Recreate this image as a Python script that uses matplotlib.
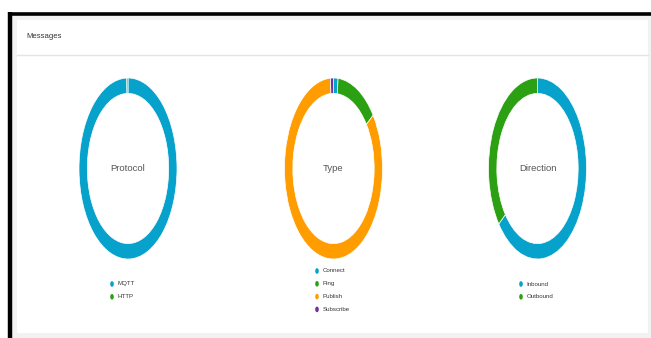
import matplotlib
matplotlib.use("Agg")
import matplotlib.pyplot as plt
from matplotlib.patches import Rectangle, Ellipse

W, H = 651, 338
DPI = 100

title = "Messages"

protocol_labels = ["MQTT", "HTTP"]
protocol_values = [99.6, 0.4]

type_labels = ["Connect", "Ping", "Publish", "Subscribe"]
type_values = [1.5, 13.5, 84.0, 1.0]

direction_labels = ["Inbound", "Outbound"]
direction_values = [64.5, 35.5]

center_titles = ["Protocol", "Type", "Direction"]

BLUE = "#06a2cb"
GREEN = "#2aa012"
ORANGE = "#ff9d00"
PURPLE = "#7030a0"

FONT = ["Liberation Sans Narrow", "Liberation Sans", "DejaVu Sans"]

fig = plt.figure(figsize=(W / DPI, H / DPI), dpi=DPI)
fig.patch.set_facecolor("white")

# overlay axes in pixel coordinates
bg = fig.add_axes([0, 0, 1, 1])
bg.set_xlim(0, W)
bg.set_ylim(H, 0)
bg.axis("off")
bg.add_patch(Rectangle((10, 13), W - 10, H - 13, facecolor="#f2f2f2", edgecolor="none"))
bg.add_patch(Rectangle((17, 20), 631, 313, facecolor="white", edgecolor="none"))
bg.plot([8, W], [13.5, 13.5], color="black", lw=2.6, solid_capstyle="butt")
bg.plot([10, 10], [12, H], color="black", lw=3.2, solid_capstyle="butt")
bg.plot([17, 648], [55, 55], color="#e4e4e4", lw=1.0)
bg.text(26, 37, title, fontsize=5.6, color="#333333", va="center", ha="left",
        family=FONT, stretch="condensed")


def px_axes(x0, y0, x1, y1):
    return fig.add_axes([x0 / W, 1 - y1 / H, (x1 - x0) / W, (y1 - y0) / H])


charts = [
    (protocol_labels, protocol_values, [BLUE, GREEN], 128.0),
    (type_labels, type_values, [BLUE, GREEN, ORANGE, PURPLE], 333.5),
    (direction_labels, direction_values, [BLUE, GREEN], 537.5),
]
rx, ry, cy = 49.0, 90.5, 168.5
legend_x = [112, 317, 521]
legend_y0 = [284, 271, 284]
legend_dy = 12.8

for i, (labels, values, cols, cx) in enumerate(charts):
    ax = px_axes(cx - rx, cy - ry, cx + rx, cy + ry)
    ax.pie(values, colors=cols, startangle=90, counterclock=False,
           wedgeprops=dict(width=0.17, edgecolor="white", linewidth=0.5))
    ax.set_aspect("auto")
    ax.set_xlim(-1, 1)
    ax.set_ylim(-1, 1)
    ax.axis("off")
    ax.text(0, 0, center_titles[i], ha="center", va="center", fontsize=6.8,
            color="#555555", family=FONT, stretch="condensed")
    for j, lab in enumerate(labels):
        y = legend_y0[i] + j * legend_dy
        bg.add_patch(Ellipse((legend_x[i], y), 3.6, 5.6, facecolor=cols[j], edgecolor="none"))
        bg.text(legend_x[i] + 5.5, y, lab, fontsize=4.4, color="#333333",
                va="center", ha="left", family=FONT, stretch="condensed")

fig.savefig("out.png", dpi=DPI)
